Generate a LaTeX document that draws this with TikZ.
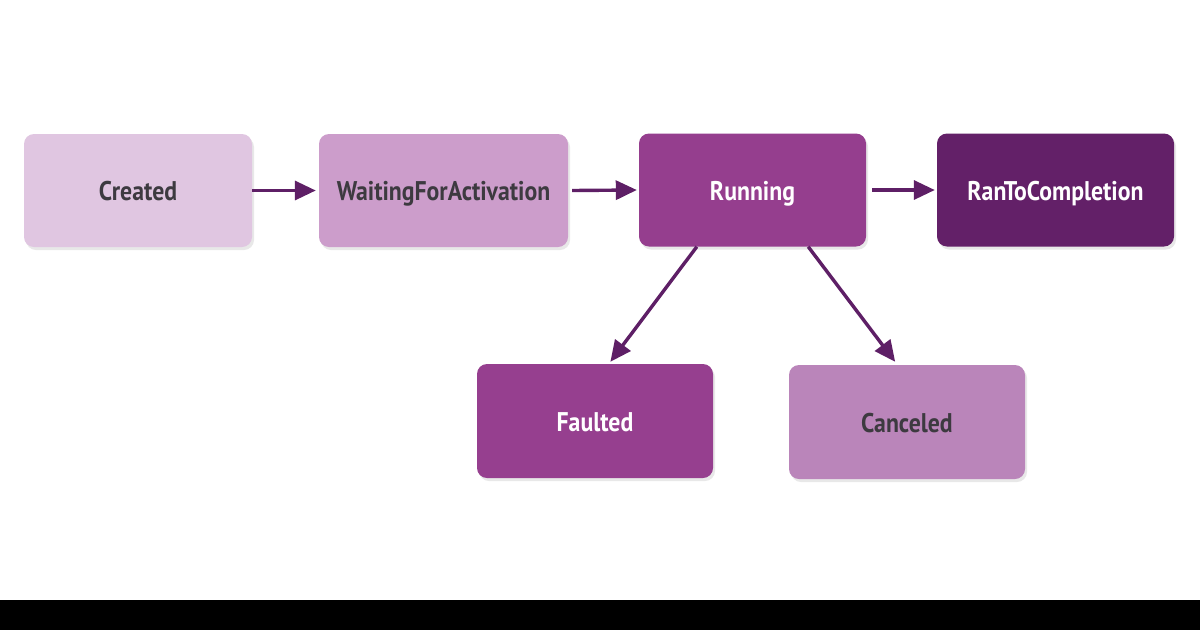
\documentclass[tikz,border=0pt]{standalone}
\usepackage{fontspec}
\setmainfont{PT Sans}[FakeStretch=0.88]
\usetikzlibrary{arrows.meta,shadows,calc}
\definecolor{cCreated}{HTML}{E0C6E1}
\definecolor{cWaiting}{HTML}{CC9DCB}
\definecolor{cRunning}{HTML}{953E8E}
\definecolor{cRan}{HTML}{632068}
\definecolor{cFault}{HTML}{963F8F}
\definecolor{cCancel}{HTML}{BA85BA}
\definecolor{cArrow}{HTML}{5E1F66}
\definecolor{cText}{HTML}{3D3A40}
\tikzset{
  state/.style={rectangle, rounded corners=10pt, minimum height=113pt,
    font=\fontsize{27}{30}\selectfont\bfseries, inner sep=0pt,
    text height=26pt, text depth=6pt,
    drop shadow={opacity=0.18, shadow xshift=2pt, shadow yshift=-3pt}},
  light/.style={state, text=cText},
  dark/.style={state, text=white},
  flow/.style={draw=cArrow, line width=3.4pt, -{Triangle[length=21pt,width=19pt]}}
}
\begin{document}
\begin{tikzpicture}[x=1pt,y=-1pt]
\fill[white] (0,0) rectangle (1200,600);
\fill[black] (0,600) rectangle (1200,630);
\useasboundingbox (0,0) rectangle (1200,630);
\node[light, fill=cCreated, minimum width=228pt] (created) at (138,190.5) {Created};
\node[light, fill=cWaiting, minimum width=249pt] (wait) at (443.5,190.5) {WaitingForActivation};
\node[dark, fill=cRunning, minimum width=227pt] (run) at (752.5,190) {Running};
\node[dark, fill=cRan, minimum width=237pt] (ran) at (1055.5,190) {RanToCompletion};
\node[dark, fill=cFault, minimum width=236pt, minimum height=114pt] (fault) at (595,421) {Faulted};
\node[light, fill=cCancel, minimum width=236pt, minimum height=114pt] (cancel) at (907,422) {Canceled};
\draw[flow] (created.east) -- ($(wait.west)+(-3,0)$);
\draw[flow] ($(wait.east)+(4,0)$) -- ($(run.west)+(-2,0)$);
\draw[flow] ($(run.east)+(6,0)$) -- ($(ran.west)+(-2,0)$);
\draw[flow] ($(run.south west)!0.255!(run.south east)$) -- ($(fault.north west)!0.565!(fault.north east)+(0,-2)$);
\draw[flow] ($(run.south west)!0.745!(run.south east)$) -- ($(cancel.north west)!0.45!(cancel.north east)+(0,-3)$);
\end{tikzpicture}
\end{document}
